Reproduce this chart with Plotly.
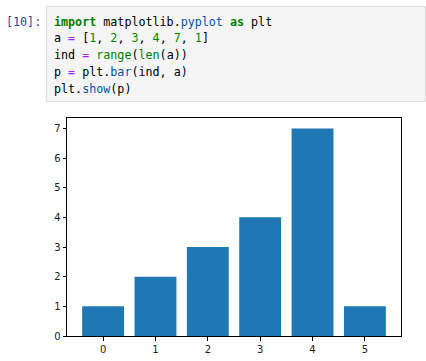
import plotly.graph_objects as go

# Data
categories = [0, 1, 2, 3, 4, 5]
values = [1, 2, 3, 4, 7, 1]
y_ticks = [0, 1, 2, 3, 4, 5, 6, 7]

W, H = 426, 361
L, R, T, B = 67, 401, 118, 336  # plot area in pixels

def px(x):
    return (x - L) / (R - L)

def py(y):
    return (B - y) / (B - T)

fig = go.Figure()
fig.add_trace(go.Bar(x=categories, y=values, width=0.8,
                     marker=dict(color="#1f77b4", line=dict(width=0))))

KW = "#008000"
OP = "#AA22FF"
NUM = "#008800"
BI = "#008000"
PR = "#0055AA"

def s(t, c=None, b=False):
    t = t.replace(" ", "&nbsp;")
    if b:
        t = "<b>" + t + "</b>"
    if c:
        return f'<span style="color:{c}">{t}</span>'
    return t

code_lines = [
    s("import", KW, True) + s(" matplotlib.") + s("pyplot", PR) + s(" ") + s("as", KW, True) + s(" plt"),
    s("a ") + s("=", OP) + s(" [") + s("1", NUM) + s(", ") + s("2", NUM) + s(", ") + s("3", NUM) + s(", ")
    + s("4", NUM) + s(", ") + s("7", NUM) + s(", ") + s("1", NUM) + s("]"),
    s("ind ") + s("=", OP) + s(" ") + s("range", BI) + s("(") + s("len", BI) + s("(a))"),
    s("p ") + s("=", OP) + s(" plt.") + s("bar", PR) + s("(ind, a)"),
    s("plt.") + s("show", PR) + s("(p)"),
]
line_y = [21.5, 38.2, 55, 71.8, 88.5]

annotations = []
for txt, yy in zip(code_lines, line_y):
    annotations.append(dict(
        text=txt, xref="paper", yref="paper", x=px(51.5), y=py(yy),
        xanchor="left", yanchor="middle", showarrow=False, align="left",
        font=dict(family="DejaVu Sans Mono", size=11.7, color="#000000")))
annotations.append(dict(
    text="[10]:", xref="paper", yref="paper", x=px(43), y=py(21.5),
    xanchor="right", yanchor="middle", showarrow=False,
    font=dict(family="DejaVu Sans Mono", size=11.7, color="#303F9F")))

shapes = [
    dict(type="rect", xref="paper", yref="paper",
         x0=px(46.5), x1=px(425.5), y0=py(101.5), y1=py(6.5),
         fillcolor="#f5f5f5", line=dict(color="#dcdcdc", width=1), layer="below"),
]

fig.update_layout(
    width=W, height=H,
    margin=dict(l=L, r=W - R, t=T, b=H - B, pad=0, autoexpand=False),
    paper_bgcolor="white", plot_bgcolor="white",
    showlegend=False,
    bargap=0.2,
    annotations=annotations,
    shapes=shapes,
    xaxis=dict(range=[-0.69, 5.69], tickmode="array", tickvals=categories,
               ticktext=[str(c) for c in categories], automargin=False,
               showgrid=False, zeroline=False, showline=True, linecolor="#000000",
               linewidth=1, mirror=True, ticks="outside", ticklen=3.5, tickwidth=0.8,
               tickcolor="#000000",
               tickfont=dict(family="DejaVu Sans", size=10, color="#222222")),
    yaxis=dict(range=[0, 7.35], tickmode="array", tickvals=y_ticks,
               ticktext=[str(v) for v in y_ticks], automargin=False,
               showgrid=False, zeroline=False, showline=True, linecolor="#000000",
               linewidth=1, mirror=True, ticks="outside", ticklen=3.5, tickwidth=0.8,
               tickcolor="#000000",
               tickfont=dict(family="DejaVu Sans", size=10, color="#222222")),
)

fig.write_html("out.html", config={"displayModeBar": False},
               post_script="document.body.style.margin='0';document.body.style.overflow='hidden';")
